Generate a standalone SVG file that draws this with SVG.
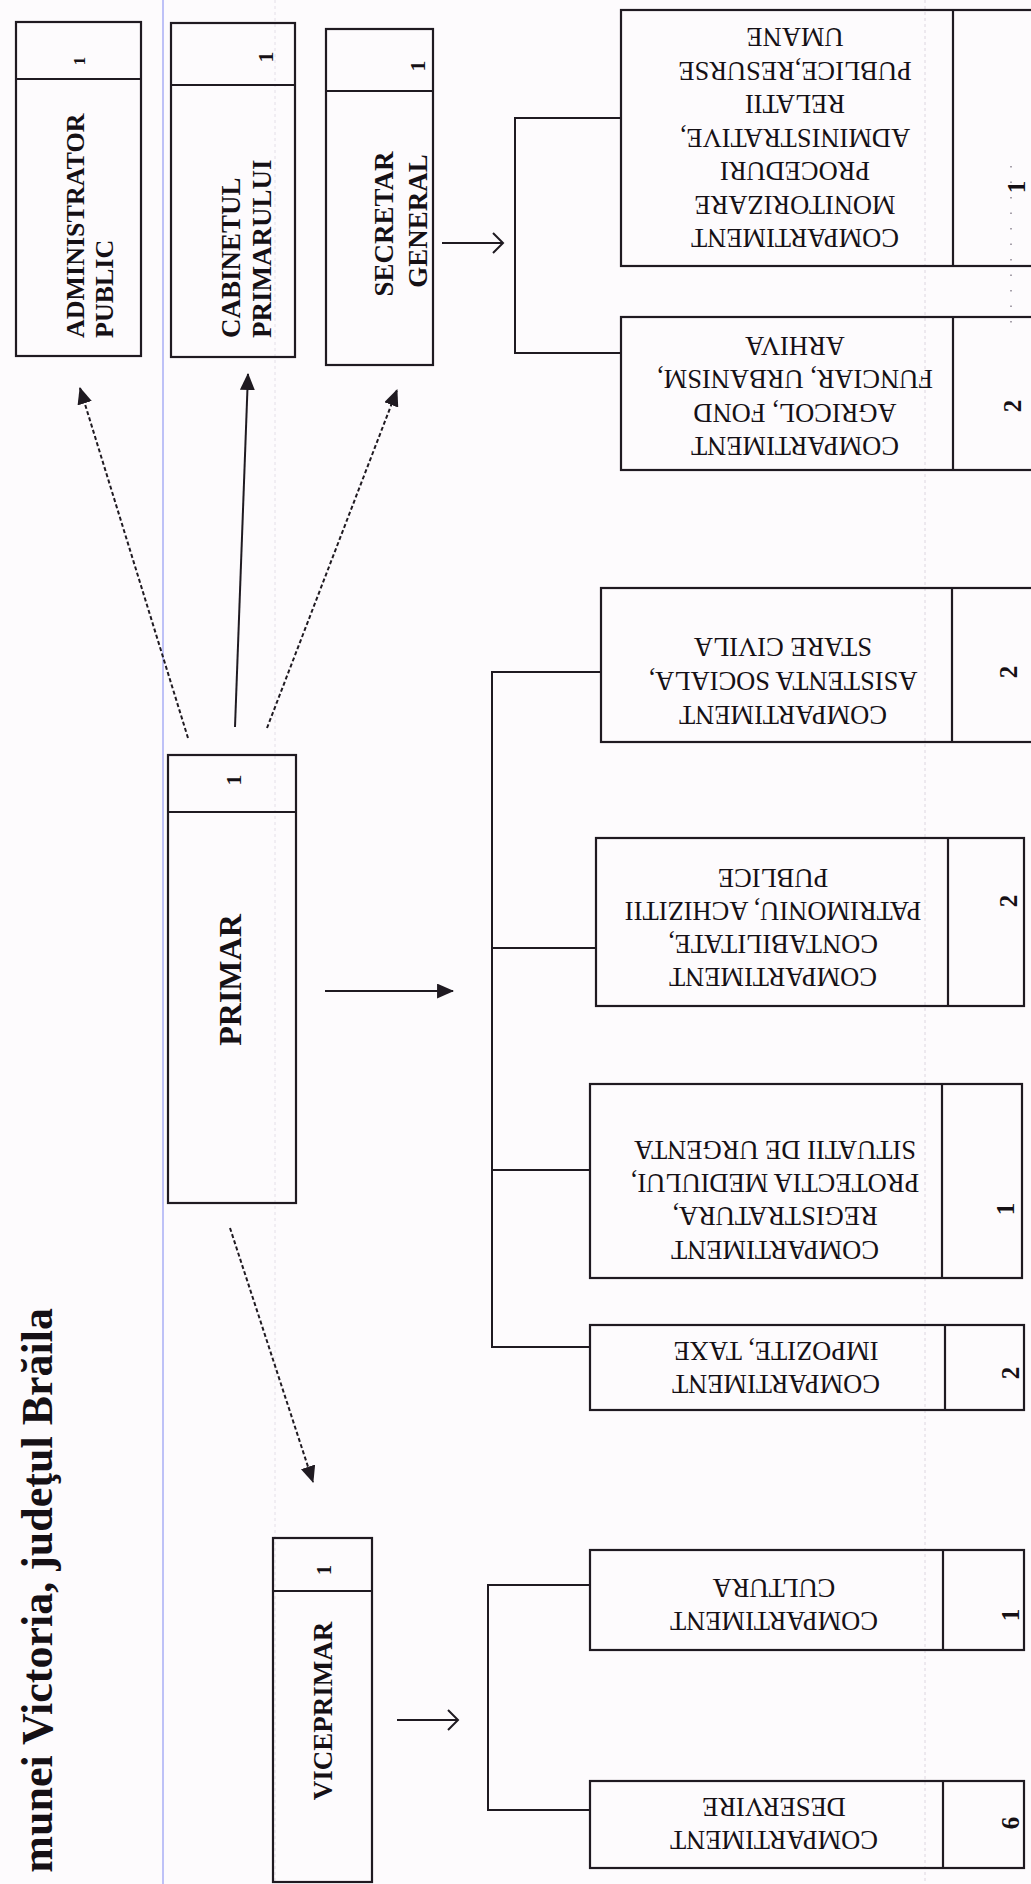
<svg xmlns="http://www.w3.org/2000/svg" width="1031" height="1884" viewBox="0 0 1031 1884">
<style>
.box{fill:none;stroke:#1f1a21;stroke-width:2.2}
.conn{fill:none;stroke:#1f1a21;stroke-width:2}
.dash{stroke-dasharray:4 2.5}
.t{font-family:"Liberation Serif","Times New Roman",serif;fill:#151015}
.b{font-weight:bold}
.r{font-size:26.5px;text-anchor:middle}
.num{font-size:25px;font-weight:bold;text-anchor:middle}
</style>
<defs>
<marker id="fa" viewBox="0 0 16 14" refX="15" refY="7" markerWidth="17" markerHeight="15" markerUnits="userSpaceOnUse" orient="auto">
<path d="M0,0 L16,7 L0,14 z" fill="#1f1a21"/>
</marker>
<marker id="oa" viewBox="0 0 14 22" refX="12" refY="11" markerWidth="14" markerHeight="22" markerUnits="userSpaceOnUse" orient="auto">
<path d="M2,1 L12,11 L2,21" fill="none" stroke="#1f1a21" stroke-width="2"/>
</marker>
</defs>
<rect x="0" y="0" width="1031" height="1884" fill="#fdfbfd"/>
<!-- scan artefacts -->
<line x1="163" y1="0" x2="163" y2="1884" stroke="#a9aef4" stroke-width="1.5"/>
<line x1="275" y1="0" x2="275" y2="1884" stroke="#e4dfe8" stroke-width="1" stroke-dasharray="3 3"/>
<line x1="925" y1="0" x2="925" y2="1884" stroke="#ddd6e0" stroke-width="1" stroke-dasharray="3 3"/>
<line x1="1011" y1="166" x2="1011" y2="324" stroke="#8a8490" stroke-width="1.5" stroke-dasharray="1.5 14"/>

<text class="t b" font-size="44" text-anchor="end" transform="translate(52,1308) rotate(-90)">munei Victoria, judeţul Brăila</text>

<g id="connectors">
<path class="conn dash" d="M188,738 L80,388" marker-end="url(#fa)"/>
<path class="conn" d="M235,727 L248,374" marker-end="url(#fa)"/>
<path class="conn dash" d="M267,728 L397,390" marker-end="url(#fa)"/>
<path class="conn dash" d="M230,1228 L313,1482" marker-end="url(#fa)"/>
<path class="conn" d="M325,991 L453,991" marker-end="url(#fa)"/>
<path class="conn" d="M442,243 L503,243" marker-end="url(#oa)"/>
<path class="conn" d="M397,1720 L458,1720" stroke="#6d6670" marker-end="url(#oa)"/>
<path class="conn" d="M620,118 H515 V353 H620"/>
<path class="conn" d="M601,672 H492 V1347 H590"/>
<path class="conn" d="M492,948 H596 M492,1170 H590"/>
<path class="conn" d="M590,1585 H488 V1810 H590"/>
</g>

<g id="administrator">
<rect class="box" x="16" y="22" width="125" height="334"/>
<line class="box" x1="16" y1="79" x2="141" y2="79"/>
<text class="t b" font-size="17" text-anchor="middle" transform="translate(85,61) rotate(-90)">1</text>
<text class="t b" font-size="26" transform="translate(84,338) rotate(-90)">ADMINISTRATOR</text>
<text class="t b" font-size="26" transform="translate(113,338) rotate(-90)">PUBLIC</text>
</g>

<g id="cabinetul">
<rect class="box" x="171" y="23" width="124" height="334"/>
<line class="box" x1="171" y1="85" x2="295" y2="85"/>
<text class="t b" font-size="22" text-anchor="middle" transform="translate(273,57) rotate(-90)">1</text>
<text class="t b" font-size="27" transform="translate(240,338) rotate(-90)">CABINETUL</text>
<text class="t b" font-size="27" transform="translate(271,338) rotate(-90)">PRIMARULUI</text>
</g>

<g id="secretar">
<rect class="box" x="326" y="29" width="107" height="336"/>
<line class="box" x1="326" y1="91" x2="433" y2="91"/>
<text class="t b" font-size="22" text-anchor="middle" transform="translate(425,66) rotate(-90)">1</text>
<text class="t b" font-size="27" text-anchor="middle" transform="translate(393,224) rotate(-90)">SECRETAR</text>
<text class="t b" font-size="27" text-anchor="middle" transform="translate(427,221) rotate(-90)">GENERAL</text>
</g>

<g id="primar">
<rect class="box" x="168" y="755" width="128" height="448"/>
<line class="box" x1="168" y1="812" x2="296" y2="812"/>
<text class="t b" font-size="22" text-anchor="middle" transform="translate(241,780) rotate(-90)">1</text>
<text class="t b" font-size="32" text-anchor="middle" transform="translate(241,980) rotate(-90)">PRIMAR</text>
</g>

<g id="viceprimar">
<rect class="box" x="273" y="1538" width="99" height="344"/>
<line class="box" x1="273" y1="1591" x2="372" y2="1591"/>
<text class="t b" font-size="20" text-anchor="middle" transform="translate(331,1570) rotate(-90)">1</text>
<text class="t b" font-size="27" text-anchor="middle" transform="translate(332,1711) rotate(-90)">VICEPRIMAR</text>
</g>

<g id="comp-monitorizare">
<rect class="box" x="621" y="10" width="414" height="256"/>
<line class="box" x1="953" y1="10" x2="953" y2="266"/>
<text class="t num" font-size="20" transform="translate(1025,187) rotate(-90)">1</text>
<text class="t r" transform="translate(795,229) rotate(180)">COMPARTIMENT</text>
<text class="t r" transform="translate(795,196) rotate(180)">MONITORIZARE</text>
<text class="t r" transform="translate(795,162) rotate(180)">PROCEDURI</text>
<text class="t r" transform="translate(795,129) rotate(180)">ADMINISTRATIVE,</text>
<text class="t r" transform="translate(795,95) rotate(180)">RELATII</text>
<text class="t r" transform="translate(795,62) rotate(180)">PUBLICE,RESURSE</text>
<text class="t r" transform="translate(795,28) rotate(180)">UMANE</text>
</g>

<g id="comp-agricol">
<rect class="box" x="621" y="317" width="414" height="153"/>
<line class="box" x1="953" y1="317" x2="953" y2="470"/>
<text class="t num" transform="translate(1021,406) rotate(-90)">2</text>
<text class="t r" transform="translate(795,437) rotate(180)">COMPARTIMENT</text>
<text class="t r" transform="translate(795,404) rotate(180)">AGRICOL, FOND</text>
<text class="t r" transform="translate(795,370) rotate(180)">FUNCIAR, URBANISM,</text>
<text class="t r" transform="translate(795,337) rotate(180)">ARHIVA</text>
</g>

<g id="comp-asistenta">
<rect class="box" x="601" y="588" width="434" height="154"/>
<line class="box" x1="952" y1="588" x2="952" y2="742"/>
<text class="t num" transform="translate(1017,672) rotate(-90)">2</text>
<text class="t r" transform="translate(783,706) rotate(180)">COMPARTIMENT</text>
<text class="t r" transform="translate(783,672) rotate(180)">ASISTENTA SOCIALA,</text>
<text class="t r" transform="translate(783,638) rotate(180)">STARE CIVILA</text>
</g>

<g id="comp-contabilitate">
<rect class="box" x="596" y="838" width="428" height="168"/>
<line class="box" x1="948" y1="838" x2="948" y2="1006"/>
<text class="t num" transform="translate(1017,901) rotate(-90)">2</text>
<text class="t r" transform="translate(773,968) rotate(180)">COMPARTIMENT</text>
<text class="t r" transform="translate(773,935) rotate(180)">CONTABILITATE,</text>
<text class="t r" transform="translate(773,902) rotate(180)">PATRIMONIU, ACHIZITII</text>
<text class="t r" transform="translate(773,869) rotate(180)">PUBLICE</text>
</g>

<g id="comp-registratura">
<rect class="box" x="590" y="1084" width="432" height="194"/>
<line class="box" x1="942" y1="1084" x2="942" y2="1278"/>
<text class="t num" transform="translate(1014,1209) rotate(-90)">1</text>
<text class="t r" transform="translate(775,1241) rotate(180)">COMPARTIMENT</text>
<text class="t r" transform="translate(775,1207) rotate(180)">REGISTRATURA,</text>
<text class="t r" transform="translate(775,1174) rotate(180)">PROTECTIA MEDIULUI,</text>
<text class="t r" transform="translate(775,1141) rotate(180)">SITUATII DE URGENTA</text>
</g>

<g id="comp-impozite">
<rect class="box" x="590" y="1325" width="434" height="85"/>
<line class="box" x1="945" y1="1325" x2="945" y2="1410"/>
<text class="t num" transform="translate(1019,1373) rotate(-90)">2</text>
<text class="t r" transform="translate(776,1375) rotate(180)">COMPARTIMENT</text>
<text class="t r" transform="translate(776,1342) rotate(180)">IMPOZITE, TAXE</text>
</g>

<g id="comp-cultura">
<rect class="box" x="590" y="1550" width="434" height="100"/>
<line class="box" x1="943" y1="1550" x2="943" y2="1650"/>
<text class="t num" transform="translate(1019,1615) rotate(-90)">1</text>
<text class="t r" transform="translate(774,1612) rotate(180)">COMPARTIMENT</text>
<text class="t r" transform="translate(774,1579) rotate(180)">CULTURA</text>
</g>

<g id="comp-deservire">
<rect class="box" x="590" y="1781" width="434" height="87"/>
<line class="box" x1="943" y1="1781" x2="943" y2="1868"/>
<text class="t num" transform="translate(1019,1823) rotate(-90)">6</text>
<text class="t r" transform="translate(774,1831) rotate(180)">COMPARTIMENT</text>
<text class="t r" transform="translate(774,1798) rotate(180)">DESERVIRE</text>
</g>
</svg>
